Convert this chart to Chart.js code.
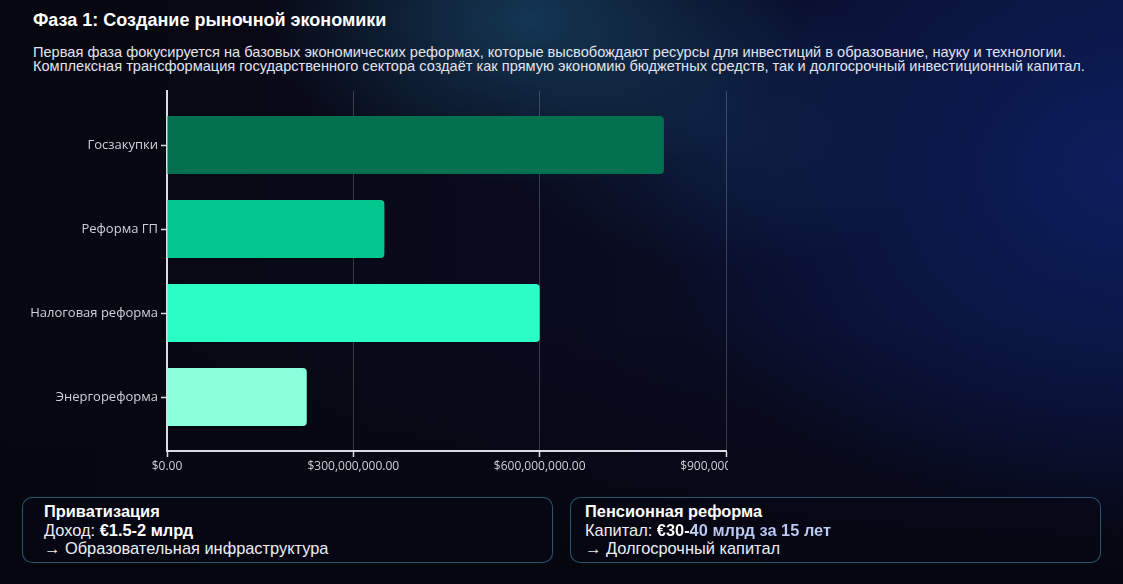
<!DOCTYPE html>
<html lang="ru">
<head>
<meta charset="utf-8">
<title>Фаза 1: Создание рыночной экономики</title>
<script src="https://cdn.jsdelivr.net/npm/chart.js@4/dist/chart.umd.min.js"></script>
<style>
    html, body {
        margin: 0;
        padding: 0;
        width: 1123px;
        height: 584px;
        overflow: hidden;
    }
    body {
        position: relative;
        font-family: "Liberation Sans", Arial, sans-serif;
        color: #fff;
        background:
            radial-gradient(ellipse 380px 240px at 530px 20px, rgba(26, 84, 118, 0.6), rgba(26, 84, 118, 0) 70%),
            radial-gradient(ellipse 320px 200px at 720px 130px, rgba(20, 62, 104, 0.35), rgba(20, 62, 104, 0) 70%),
            radial-gradient(ellipse 650px 480px at 1123px 170px, rgba(12, 32, 100, 0.85), rgba(12, 32, 100, 0) 75%),
            linear-gradient(180deg, rgba(8, 8, 20, 0) 55%, #06060e 100%),
            linear-gradient(90deg, #07070f 0%, #090a1c 45%, #0a1030 100%);
    }
    h1 {
        position: absolute;
        left: 33px;
        top: 10px;
        margin: 0;
        font-size: 18px;
        font-weight: bold;
        line-height: 20px;
    }
    .intro {
        position: absolute;
        left: 33px;
        top: 45px;
        margin: 0;
        font-size: 14.6px;
        line-height: 14px;
        color: #e2e4ee;
    }
    .chart-box {
        position: absolute;
        left: 0;
        top: 80px;
        width: 728px;
        height: 400px;
        overflow: hidden;
    }
    .card {
        position: absolute;
        top: 497px;
        width: 531px;
        height: 66px;
        box-sizing: border-box;
        border: 1px solid rgba(70, 150, 190, 0.55);
        border-radius: 10px;
        background: rgba(8, 8, 22, 0.6);
        font-size: 16.4px;
        line-height: 18.5px;
        padding-top: 4px;
        color: #eceef5;
    }
    .card.left { left: 22px; padding-left: 21px; }
    .card.right { left: 570px; padding-left: 14px; }
    .card b { color: #fff; }
    .card .hl {
        font-weight: bold;
        background: linear-gradient(90deg, #fff 0%, #fff 17%, #bccbf3 22%, #bccbf3 100%);
        -webkit-background-clip: text;
        background-clip: text;
        color: transparent;
    }
</style>
</head>
<body>
<h1>Фаза 1: Создание рыночной экономики</h1>
<p class="intro">Первая фаза фокусируется на базовых экономических реформах, которые высвобождают ресурсы для инвестиций в образование, науку и технологии.<br>Комплексная трансформация государственного сектора создаёт как прямую экономию бюджетных средств, так и долгосрочный инвестиционный капитал.</p>

<div class="chart-box"><canvas id="reformChart"></canvas></div>

<div class="card left">
    <b>Приватизация</b><br>
    Доход: <b>€1.5-2 млрд</b><br>
    → Образовательная инфраструктура
</div>
<div class="card right">
    <b>Пенсионная реформа</b><br>
    Капитал: <span class="hl">€30-40 млрд за 15 лет</span><br>
    → Долгосрочный капитал
</div>

<script>
// Данные графика
const reforms = ['Госзакупки', 'Реформа ГП', 'Налоговая реформа', 'Энергореформа'];
const savings = [800000000, 350000000, 600000000, 225000000];
const barColors = ['#03704f', '#00c78c', '#2bffc5', '#8cffdc'];
const axisMax = 900000000;
const axisStep = 300000000;

const usd = new Intl.NumberFormat('en-US', { style: 'currency', currency: 'USD', minimumFractionDigits: 2 });

// Немного сжимаем категории внутри области графика (как в оригинале)
const categoryInset = {
    id: 'categoryInset',
    afterLayout(chart) {
        const y = chart.scales.y;
        y._startPixel += 12;
        y._endPixel -= 12;
        y._length -= 24;
    }
};

const ctx = document.getElementById('reformChart');
new Chart(ctx, {
    type: 'bar',
    data: {
        labels: reforms,
        datasets: [{
            data: savings,
            backgroundColor: barColors,
            borderRadius: 4,
            categoryPercentage: 0.8,
            barPercentage: 0.86
        }]
    },
    plugins: [categoryInset],
    options: {
        indexAxis: 'y',
        responsive: true,
        maintainAspectRatio: false,
        animation: false,
        layout: { padding: { top: 11, right: 2, left: 0, bottom: 0 } },
        scales: {
            x: {
                min: 0,
                max: axisMax,
                ticks: {
                    stepSize: axisStep,
                    color: '#cfd0d8',
                    font: { family: 'Open Sans', size: 12 },
                    padding: 2,
                    maxRotation: 0,
                    callback: v => usd.format(v)
                },
                grid: {
                    color: 'rgba(255, 255, 255, 0.2)',
                    tickColor: '#dcdce4',
                    tickLength: 6,
                    tickWidth: 1.5
                },
                border: { color: '#dcdce4', width: 2 },
                afterFit: s => {
                    s.height = 29;
                    s.paddingLeft = 0;
                    s.paddingRight = 0;
                }
            },
            y: {
                ticks: {
                    color: '#cfd0d8',
                    font: { family: 'Open Sans', size: 13 },
                    padding: 3
                },
                grid: {
                    display: true,
                    offset: false,
                    drawOnChartArea: false,
                    tickColor: '#dcdce4',
                    tickLength: 6,
                    tickWidth: 1.5
                },
                border: { color: '#dcdce4', width: 2 },
                afterFit: s => {
                    s.width = 167;
                    s.paddingTop = 0;
                    s.paddingBottom = 0;
                }
            }
        },
        plugins: {
            legend: { display: false },
            tooltip: {
                callbacks: {
                    label: c => usd.format(c.parsed.x)
                }
            }
        }
    }
});
</script>
</body>
</html>
